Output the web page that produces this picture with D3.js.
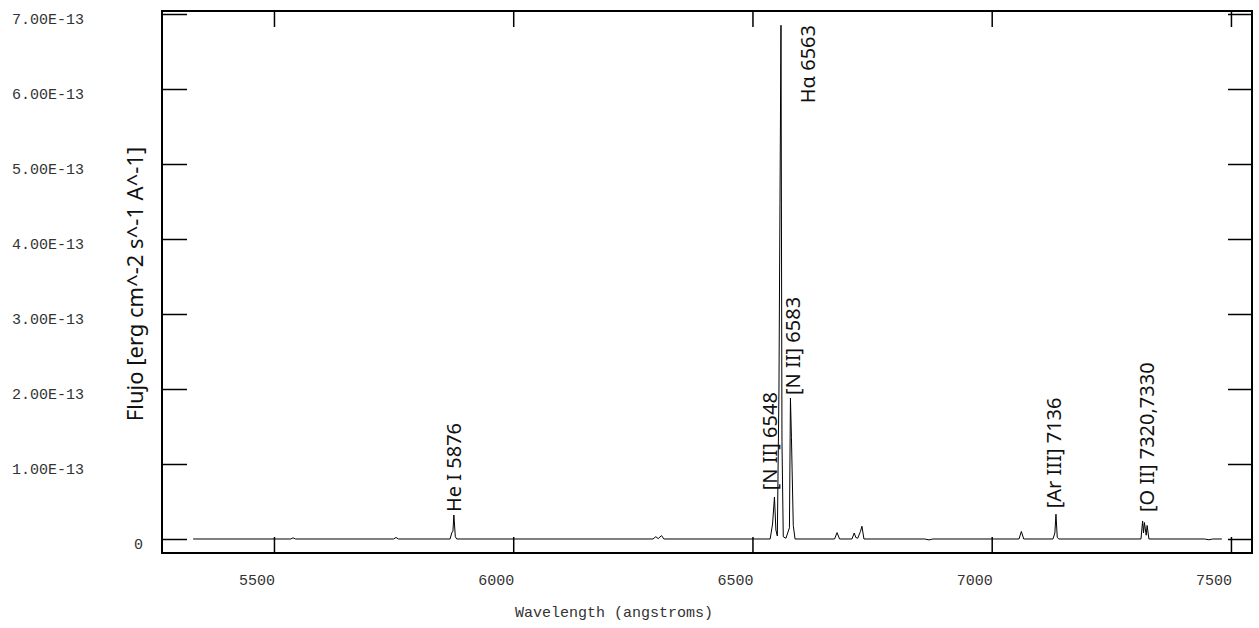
<!DOCTYPE html>
<html>
<head>
<meta charset="utf-8">
<script src="https://cdn.jsdelivr.net/npm/d3@7/dist/d3.min.js"></script>
<style>
  html, body { margin: 0; padding: 0; background: #fff; }
  svg { display: block; }
</style>
</head>
<body>
<svg id="chart" width="1259" height="628"></svg>
<script>
// ---- data (flux in units of 1e-13 erg cm^-2 s^-1 A^-1) ----
const wavelength = [5331, 5535, 5540, 5545, 5750, 5755, 5760, 5868, 5872, 5874, 5876, 5879, 5882,
  6292, 6298, 6303, 6310, 6315,
  6537, 6542, 6546, 6549, 6552, 6555.4, 6557.5, 6559.6, 6561.7, 6564.4, 6570, 6577.3, 6579.4, 6581.5, 6585.3, 6589,
  6671.6, 6676.8, 6682, 6708, 6712.7, 6716, 6720, 6725.7, 6728.8, 6733,
  6860, 6869, 6877, 7057, 7062, 7067, 7128, 7132, 7134.3, 7137, 7140.5,
  7312, 7315.4, 7317.3, 7319.2, 7322.9, 7324.8, 7328.6, 7445, 7454, 7462, 7481];
const flux = [0, 0, 0.015, 0, 0, 0.02, 0, 0, 0.09, 0.10, 0.32, 0.03, 0,
  0, 0.03, 0.005, 0.045, 0,
  0, 0.2, 0.56, 0.12, 0.04, 2.0, 4.47, 6.85, 1.3, 0.03, 0.01, 0.15, 1.88, 1.35, 0.18, 0,
  0, 0.085, 0, 0, 0.08, 0.02, 0.01, 0.1, 0.17, 0,
  0, -0.012, 0, 0, 0.1, 0, 0, 0.08, 0.33, 0.02, 0,
  0, 0.24, 0.08, 0.22, 0.05, 0.18, 0, 0, -0.01, 0, 0];

const xTicks = [5500, 6000, 6500, 7000, 7500];
const yTicks = [0, 1, 2, 3, 4, 5, 6, 7];
const yTickLabels = ["0", "1.00E-13", "2.00E-13", "3.00E-13", "4.00E-13", "5.00E-13", "6.00E-13", "7.00E-13"];

const lineLabels = ["He I 5876", "[N II] 6548", "[N II] 6583", "H\u03b1 6563", "[Ar III] 7136", "[O II] 7320,7330"];
const lineLabelWave = [5877, 6537, 6585, 6616, 7131, 7324.5];
const lineLabelFlux = [0.36, 0.65, 1.92, 5.81, 0.41, 0.36];

const xTitle = "Wavelength (angstroms)";
const yTitle = "Flujo [erg cm^-2 s^-1 A^-1]";

// ---- layout ----
const L = 162, R = 1252, T = 11, B = 553;
const svg = d3.select("#chart");
const x = d3.scaleLinear().domain([5266, 7544]).range([L, R]);
const y = d3.scaleLinear().domain([-0.1867, 7.04]).range([B, T]);

const monoFont = "'Liberation Mono', 'DejaVu Sans Mono', monospace";
const sansFont = "'Noto Sans', 'Open Sans', sans-serif";

// spectrum
const pts = wavelength.map((w, i) => [w, flux[i]]);
svg.append("path")
  .datum(pts)
  .attr("fill", "none")
  .attr("stroke", "#000")
  .attr("stroke-width", 1)
  .attr("d", d3.line().x(d => x(d[0])).y(d => y(d[1])));

// axes (ticks inward)
const tickStyle = g => {
  g.select(".domain").remove();
  g.selectAll(".tick line").attr("stroke", "#000").attr("stroke-width", 1.5);
  g.selectAll(".tick text").remove();
};
svg.append("g").attr("transform", `translate(0,${B})`)
  .call(d3.axisBottom(x).tickValues(xTicks).tickSizeInner(-16).tickSizeOuter(0)).call(tickStyle);
svg.append("g").attr("transform", `translate(0,${T})`)
  .call(d3.axisTop(x).tickValues(xTicks).tickSizeInner(-16).tickSizeOuter(0)).call(tickStyle);
svg.append("g").attr("transform", `translate(${L},0)`)
  .call(d3.axisLeft(y).tickValues(yTicks).tickSizeInner(-25).tickSizeOuter(0)).call(tickStyle);
svg.append("g").attr("transform", `translate(${R},0)`)
  .call(d3.axisRight(y).tickValues(yTicks).tickSizeInner(-24).tickSizeOuter(0)).call(tickStyle);

// frame
svg.append("rect").attr("x", L).attr("y", T).attr("width", R - L).attr("height", B - T)
  .attr("fill", "none").attr("stroke", "#000").attr("stroke-width", 2);

// x tick labels (right-aligned at tick)
svg.append("g").selectAll("text").data(xTicks).join("text")
  .attr("x", d => x(d) + 1).attr("y", 585)
  .attr("text-anchor", "end")
  .attr("font-family", monoFont).attr("font-size", 15).attr("fill", "#333")
  .text(d => d);

// y tick labels
svg.append("g").selectAll("text").data(yTicks).join("text")
  .attr("x", (d, i) => yTickLabels[i] === "0" ? 143 : 12)
  .attr("y", d => y(d) + 10)
  .attr("text-anchor", (d, i) => yTickLabels[i] === "0" ? "end" : "start")
  .attr("font-family", monoFont).attr("font-size", 15).attr("fill", "#333")
  .text((d, i) => yTickLabels[i]);

// axis titles
svg.append("text").attr("x", 515).attr("y", 617)
  .attr("font-family", monoFont).attr("font-size", 15).attr("fill", "#333")
  .text(xTitle);
svg.append("text").attr("transform", `translate(143,284) rotate(-90)`)
  .attr("text-anchor", "middle")
  .attr("font-family", sansFont).attr("font-size", 22).attr("fill", "#111")
  .text(yTitle);

// line labels
svg.append("g").selectAll("text").data(lineLabels).join("text")
  .attr("transform", (d, i) => `translate(${x(lineLabelWave[i])},${y(lineLabelFlux[i])}) rotate(-90)`)
  .attr("dy", "0.35em")
  .attr("text-anchor", "start")
  .attr("font-family", sansFont).attr("font-size", 20).attr("fill", "#111")
  .text(d => d);
</script>
</body>
</html>
